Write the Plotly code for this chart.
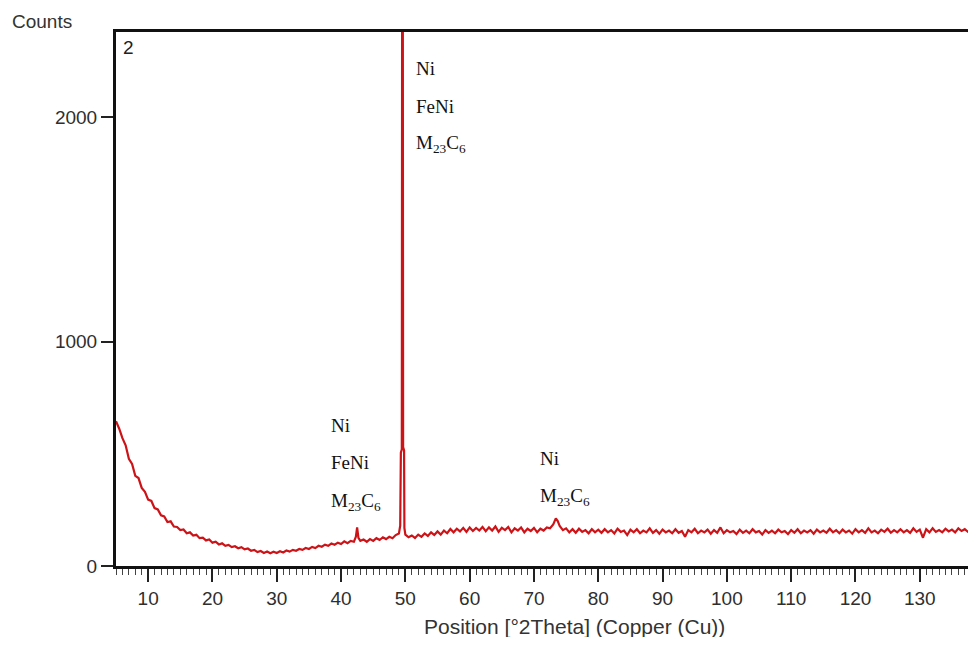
import plotly.graph_objects as go

# ---- data ----
two_theta = [
    5.0, 5.5, 6.0, 6.5, 7.0, 7.5, 8.0, 8.5, 9.0, 9.5,
    10.0, 10.5, 11.0, 11.5, 12.0, 12.5, 13.0, 13.5, 14.0, 14.5,
    15.0, 15.5, 16.0, 16.5, 17.0, 17.5, 18.0, 18.5, 19.0, 19.5,
    20.0, 20.5, 21.0, 21.5, 22.0, 22.5, 23.0, 23.5, 24.0, 24.5,
    25.0, 25.5, 26.0, 26.5, 27.0, 27.5, 28.0, 28.5, 29.0, 29.5,
    30.0, 30.5, 31.0, 31.5, 32.0, 32.5, 33.0, 33.5, 34.0, 34.5,
    35.0, 35.5, 36.0, 36.5, 37.0, 37.5, 38.0, 38.5, 39.0, 39.5,
    40.0, 40.5, 41.0, 41.5, 42.0, 42.3, 42.5, 42.7, 43.0, 43.5,
    44.0, 44.5, 45.0, 45.5, 46.0, 46.5, 47.0, 47.5, 48.0, 48.5,
    49.0, 49.2, 49.3, 49.45, 49.5, 49.6, 49.65, 49.8, 49.85, 50.0,
    50.5, 51.0, 51.5, 52.0, 52.5, 53.0, 53.5, 54.0, 54.5, 55.0,
    55.5, 56.0, 56.5, 57.0, 57.5, 58.0, 58.5, 59.0, 59.5, 60.0,
    60.5, 61.0, 61.5, 62.0, 62.5, 63.0, 63.5, 64.0, 64.5, 65.0,
    65.5, 66.0, 66.5, 67.0, 67.5, 68.0, 68.5, 69.0, 69.5, 70.0,
    70.5, 71.0, 71.5, 72.0, 72.5, 73.0, 73.4, 73.7, 74.0, 74.5,
    75.0, 75.5, 76.0, 76.5, 77.0, 77.5, 78.0, 78.5, 79.0, 79.5,
    80.0, 80.5, 81.0, 81.5, 82.0, 82.5, 83.0, 83.5, 84.0, 84.5,
    85.0, 85.5, 86.0, 86.5, 87.0, 87.5, 88.0, 88.5, 89.0, 89.5,
    90.0, 90.5, 91.0, 91.5, 92.0, 92.5, 93.0, 93.5, 94.0, 94.5,
    95.0, 95.5, 96.0, 96.5, 97.0, 97.5, 98.0, 98.5, 99.0, 99.5,
    100.0, 100.5, 101.0, 101.5, 102.0, 102.5, 103.0, 103.5, 104.0, 104.5,
    105.0, 105.5, 106.0, 106.5, 107.0, 107.5, 108.0, 108.5, 109.0, 109.5,
    110.0, 110.5, 111.0, 111.5, 112.0, 112.5, 113.0, 113.5, 114.0, 114.5,
    115.0, 115.5, 116.0, 116.5, 117.0, 117.5, 118.0, 118.5, 119.0, 119.5,
    120.0, 120.5, 121.0, 121.5, 122.0, 122.5, 123.0, 123.5, 124.0, 124.5,
    125.0, 125.5, 126.0, 126.5, 127.0, 127.5, 128.0, 128.5, 129.0, 129.5,
    130.0, 130.5, 131.0, 131.5, 132.0, 132.5, 133.0, 133.5, 134.0, 134.5,
    135.0, 135.5, 136.0, 136.5, 137.0, 137.5, 138.0, 138.5, 139.0,
]
counts = [
    645, 612, 570, 538, 478, 455, 402, 392, 348, 331,
    296, 290, 258, 252, 226, 221, 196, 199, 176, 174,
    160, 163, 146, 150, 136, 139, 124, 126, 114, 118,
    104, 108, 96, 101, 90, 94, 84, 88, 79, 84,
    74, 78, 68, 72, 62, 67, 58, 65, 57, 64,
    58, 66, 60, 69, 64, 72, 68, 76, 72, 80,
    76, 85, 80, 90, 86, 95, 90, 100, 95, 104,
    98, 110, 102, 112, 108, 130, 172, 125, 112, 118,
    108, 120, 112, 124, 116, 128, 120, 130, 124, 138,
    145, 180, 505, 520, 2700, 2700, 530, 515, 170, 140,
    128, 136, 125, 140, 130, 145, 134, 150, 138, 154,
    140, 158, 146, 165, 150, 166, 154, 170, 152, 172,
    156, 170, 158, 174, 155, 172, 158, 176, 152, 170,
    160, 174, 150, 168, 158, 172, 150, 166, 156, 170,
    150, 166, 158, 172, 168, 185, 212, 200, 178, 160,
    168, 150, 164, 148, 166, 152, 160, 146, 164, 150,
    162, 148, 164, 150, 160, 145, 166, 152, 158, 138,
    162, 150, 164, 146, 158, 150, 168, 148, 160, 144,
    162, 150, 158, 146, 164, 148, 156, 130, 160, 150,
    166, 146, 158, 150, 162, 144, 160, 148, 172, 146,
    160, 150, 156, 142, 162, 148, 158, 146, 164, 150,
    156, 140, 160, 148, 158, 146, 162, 150, 156, 142,
    160, 148, 164, 146, 158, 150, 160, 144, 162, 150,
    158, 148, 166, 150, 160, 146, 162, 150, 158, 144,
    164, 150, 160, 148, 168, 150, 158, 146, 162, 152,
    166, 148, 160, 150, 164, 150, 160, 148, 168, 152,
    162, 126, 164, 150, 168, 152, 160, 150, 166, 154,
    162, 150, 168, 156, 164, 152, 170, 156, 166,
]

x_ticks = [10, 20, 30, 40, 50, 60, 70, 80, 90, 100, 110, 120, 130]
y_ticks = [0, 1000, 2000]

# peak labels
label_x = [51.4, 51.4, 51.4, 38.2, 38.2, 38.2, 70.6, 70.6]
label_y = [2218, 2049, 1880, 628, 463, 285, 481, 307]
label_text = ["Ni", "FeNi", "M<sub>23</sub>C<sub>6</sub>",
              "Ni", "FeNi", "M<sub>23</sub>C<sub>6</sub>",
              "Ni", "M<sub>23</sub>C<sub>6</sub>"]

fig = go.Figure()
fig.add_trace(go.Scatter(
    x=two_theta, y=counts, mode="lines",
    line=dict(color="#cc1418", width=2.2),
    hoverinfo="skip", showlegend=False,
))

SANS = "Liberation Sans, Arial, sans-serif"
SERIF = "Liberation Serif, Times New Roman, serif"
tick_font = dict(family=SANS, size=19, color="#2e2e2e")

fig.update_xaxes(
    range=[5, 137.5],
    tickvals=x_ticks,
    ticks="outside", ticklen=13, tickwidth=1.5, tickcolor="#222222",
    minor=dict(dtick=1, ticks="outside", ticklen=6, tickwidth=1, tickcolor="#444444"),
    showline=True, linewidth=3, linecolor="#111111", mirror=True,
    showgrid=False, zeroline=False,
    tickfont=tick_font,
)
fig.update_yaxes(
    range=[0, 2380],
    tickvals=y_ticks,
    ticks="outside", ticklen=12, tickwidth=1.5, tickcolor="#222222",
    showline=True, linewidth=3, linecolor="#111111",
    showgrid=False, zeroline=False,
    tickfont=tick_font,
)

# plot area in page pixels (page has an 8px body margin)
PL, PR, PT, PB = 116, 968, 32, 566
def px(xp):
    return (xp - PL) / (PR - PL)
def py(yp):
    return (PB - yp) / (PB - PT)

annotations = []
for lx, ly, lt in zip(label_x, label_y, label_text):
    annotations.append(dict(
        x=lx, y=ly, xref="x", yref="y", text=lt, showarrow=False,
        xanchor="left", yanchor="middle",
        font=dict(family=SERIF, size=19, color="#111111"),
    ))
annotations.append(dict(
    x=px(121), y=py(35), xref="paper", yref="paper", text="2", showarrow=False,
    xanchor="left", yanchor="top",
    font=dict(family=SANS, size=19, color="#222222"),
))
annotations.append(dict(
    x=px(10), y=py(9), xref="paper", yref="paper", text="Counts", showarrow=False,
    xanchor="left", yanchor="top",
    font=dict(family=SANS, size=19, color="#333333"),
))
annotations.append(dict(
    x=px(574), y=py(626), xref="paper", yref="paper",
    text="Position [°2Theta] (Copper (Cu))", showarrow=False,
    xanchor="center", yanchor="middle",
    font=dict(family=SANS, size=21, color="#333333"),
))

fig.update_layout(
    width=960, height=629,
    margin=dict(l=108, r=0, t=24, b=71),
    paper_bgcolor="white", plot_bgcolor="white",
    annotations=annotations,
)

fig.write_html("out.html")
